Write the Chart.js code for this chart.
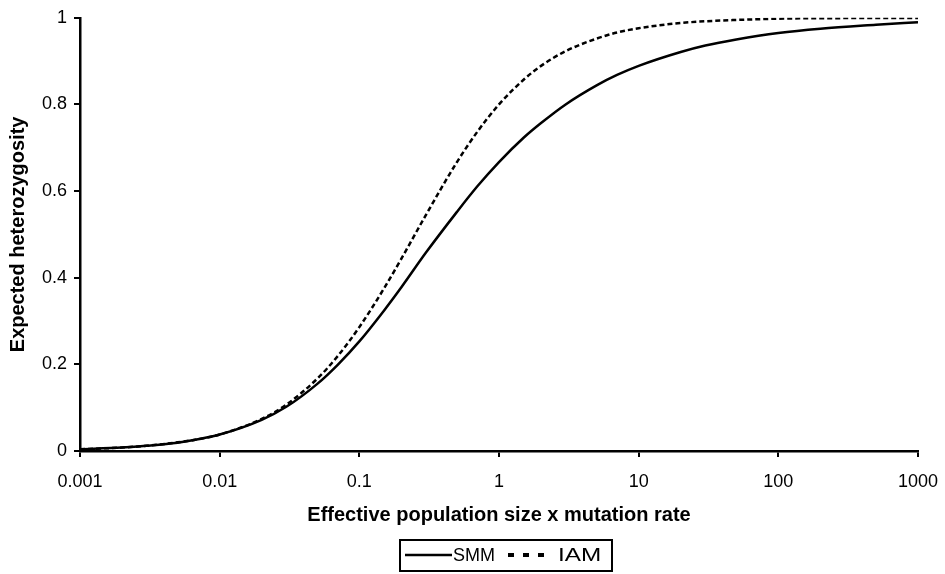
<!DOCTYPE html>
<html>
<head>
<meta charset="utf-8">
<script src="https://cdn.jsdelivr.net/npm/chart.js@4.4.1/dist/chart.umd.min.js"></script>
<style>
  html, body { margin: 0; padding: 0; background: #fff; }
  #wrap { width: 945px; height: 574px; }
</style>
</head>
<body>
<div id="wrap"><canvas id="chart" width="945" height="574"></canvas></div>
<script>
// Valores (Neμ en escala log)
const theta = [0.001, 0.002, 0.003, 0.005, 0.007, 0.01, 0.02, 0.03, 0.05, 0.07,
  0.1, 0.15, 0.2, 0.3, 0.5, 0.7, 1, 1.5, 2, 3, 5, 7, 10, 20, 30, 50, 100, 200, 500, 1000];
const smm = [0.004, 0.008, 0.012, 0.019, 0.027, 0.038, 0.072, 0.102, 0.155, 0.199,
  0.253, 0.324, 0.378, 0.458, 0.552, 0.611, 0.667, 0.723, 0.757, 0.800, 0.844, 0.868,
  0.889, 0.921, 0.936, 0.950, 0.965, 0.975, 0.984, 0.990];
const iam = [0.004, 0.008, 0.012, 0.020, 0.027, 0.038, 0.074, 0.107, 0.167, 0.219,
  0.286, 0.375, 0.444, 0.545, 0.667, 0.737, 0.800, 0.857, 0.889, 0.923, 0.952, 0.966,
  0.976, 0.988, 0.992, 0.995, 0.998, 0.999, 0.9995, 0.9998];

const xTicks = [0.001, 0.01, 0.1, 1, 10, 100, 1000];
const xTickLabels = ["0.001", "0.01", "0.1", "1", "10", "100", "1000"];
const yTicks = [0, 0.2, 0.4, 0.6, 0.8, 1];
const yTickLabels = ["0", "0.2", "0.4", "0.6", "0.8", "1"];

const seriesNames = ["SMM", "IAM"];

const FONT = "'Liberation Sans', Arial, Helvetica, sans-serif";

// Leyenda con recuadro, dibujada debajo del eje
const boxedLegend = {
  id: "boxedLegend",
  afterDraw(chart) {
    const ctx = chart.ctx;
    const ds = chart.data.datasets;
    ctx.save();
    ctx.strokeStyle = "#000";
    ctx.lineWidth = 2;
    ctx.strokeRect(400, 540, 212, 31);

    ctx.font = "18px " + FONT;
    ctx.fillStyle = "#000";
    ctx.textBaseline = "middle";

    // SMM
    ctx.lineWidth = ds[0].borderWidth;
    ctx.setLineDash([]);
    ctx.beginPath(); ctx.moveTo(405, 555); ctx.lineTo(452, 555); ctx.stroke();
    ctx.fillText(ds[0].label, 453, 556);

    // IAM
    ctx.lineWidth = 4;
    ctx.setLineDash([6, 9]);
    ctx.beginPath(); ctx.moveTo(508, 555); ctx.lineTo(544, 555); ctx.stroke();
    ctx.setLineDash([]);
    // el texto IAM sale más ancho en el original
    ctx.translate(558, 556);
    ctx.scale(1.35, 1);
    ctx.fillText(ds[1].label, 0, 0);
    ctx.restore();
  }
};

new Chart(document.getElementById("chart"), {
  type: "line",
  data: {
    datasets: [
      {
        label: seriesNames[0],
        data: theta.map((x, i) => ({ x, y: smm[i] })),
        borderColor: "#000",
        borderWidth: 2.5,
        pointRadius: 0,
        cubicInterpolationMode: "monotone",
        fill: false
      },
      {
        label: seriesNames[1],
        data: theta.map((x, i) => ({ x, y: iam[i] })),
        borderColor: "#000",
        borderWidth: 2.5,
        borderDash: [5, 3],
        pointRadius: 0,
        cubicInterpolationMode: "monotone",
        fill: false
      }
    ]
  },
  options: {
    responsive: false,
    devicePixelRatio: 1,
    animation: false,
    layout: { padding: { left: 0, top: 14, right: 27, bottom: 47 } },
    plugins: {
      legend: { display: false },
      tooltip: { enabled: false }
    },
    scales: {
      x: {
        type: "logarithmic",
        min: 0.001,
        max: 1000,
        afterBuildTicks: s => { s.ticks = xTicks.map(v => ({ value: v })); },
        afterFit: s => { s.height = 76; s.paddingLeft = 0; s.paddingRight = 0; },
        grid: { drawOnChartArea: false, drawTicks: true, tickLength: 6, color: "#000", lineWidth: 2 },
        border: { display: true, color: "#000", width: 2.5 },
        ticks: {
          color: "#000",
          font: { family: FONT, size: 18 },
          padding: 14,
          maxRotation: 0,
          autoSkip: false,
          callback: (v) => {
            const i = xTicks.findIndex(t => Math.abs(t - v) / t < 1e-6);
            return i >= 0 ? xTickLabels[i] : "";
          }
        },
        title: {
          display: true,
          text: "Effective population size x mutation rate",
          color: "#000",
          font: { family: FONT, size: 20, weight: "bold", lineHeight: 1.2 },
          padding: { top: 0, bottom: 0 }
        }
      },
      y: {
        min: 0,
        max: 1,
        afterBuildTicks: s => { s.ticks = yTicks.map(v => ({ value: v })); },
        afterFit: s => { s.width = 80; },
        grid: { drawOnChartArea: false, drawTicks: true, tickLength: 6, color: "#000", lineWidth: 2 },
        border: { display: true, color: "#000", width: 2.5 },
        ticks: {
          color: "#000",
          font: { family: FONT, size: 18 },
          padding: 7,
          callback: (v, i) => yTickLabels[i]
        },
        title: {
          display: true,
          text: "Expected heterozygosity",
          color: "#000",
          font: { family: FONT, size: 20, weight: "bold", lineHeight: 1.2 },
          padding: { top: 6, bottom: 0 }
        }
      }
    }
  },
  plugins: [boxedLegend]
});
</script>
</body>
</html>
